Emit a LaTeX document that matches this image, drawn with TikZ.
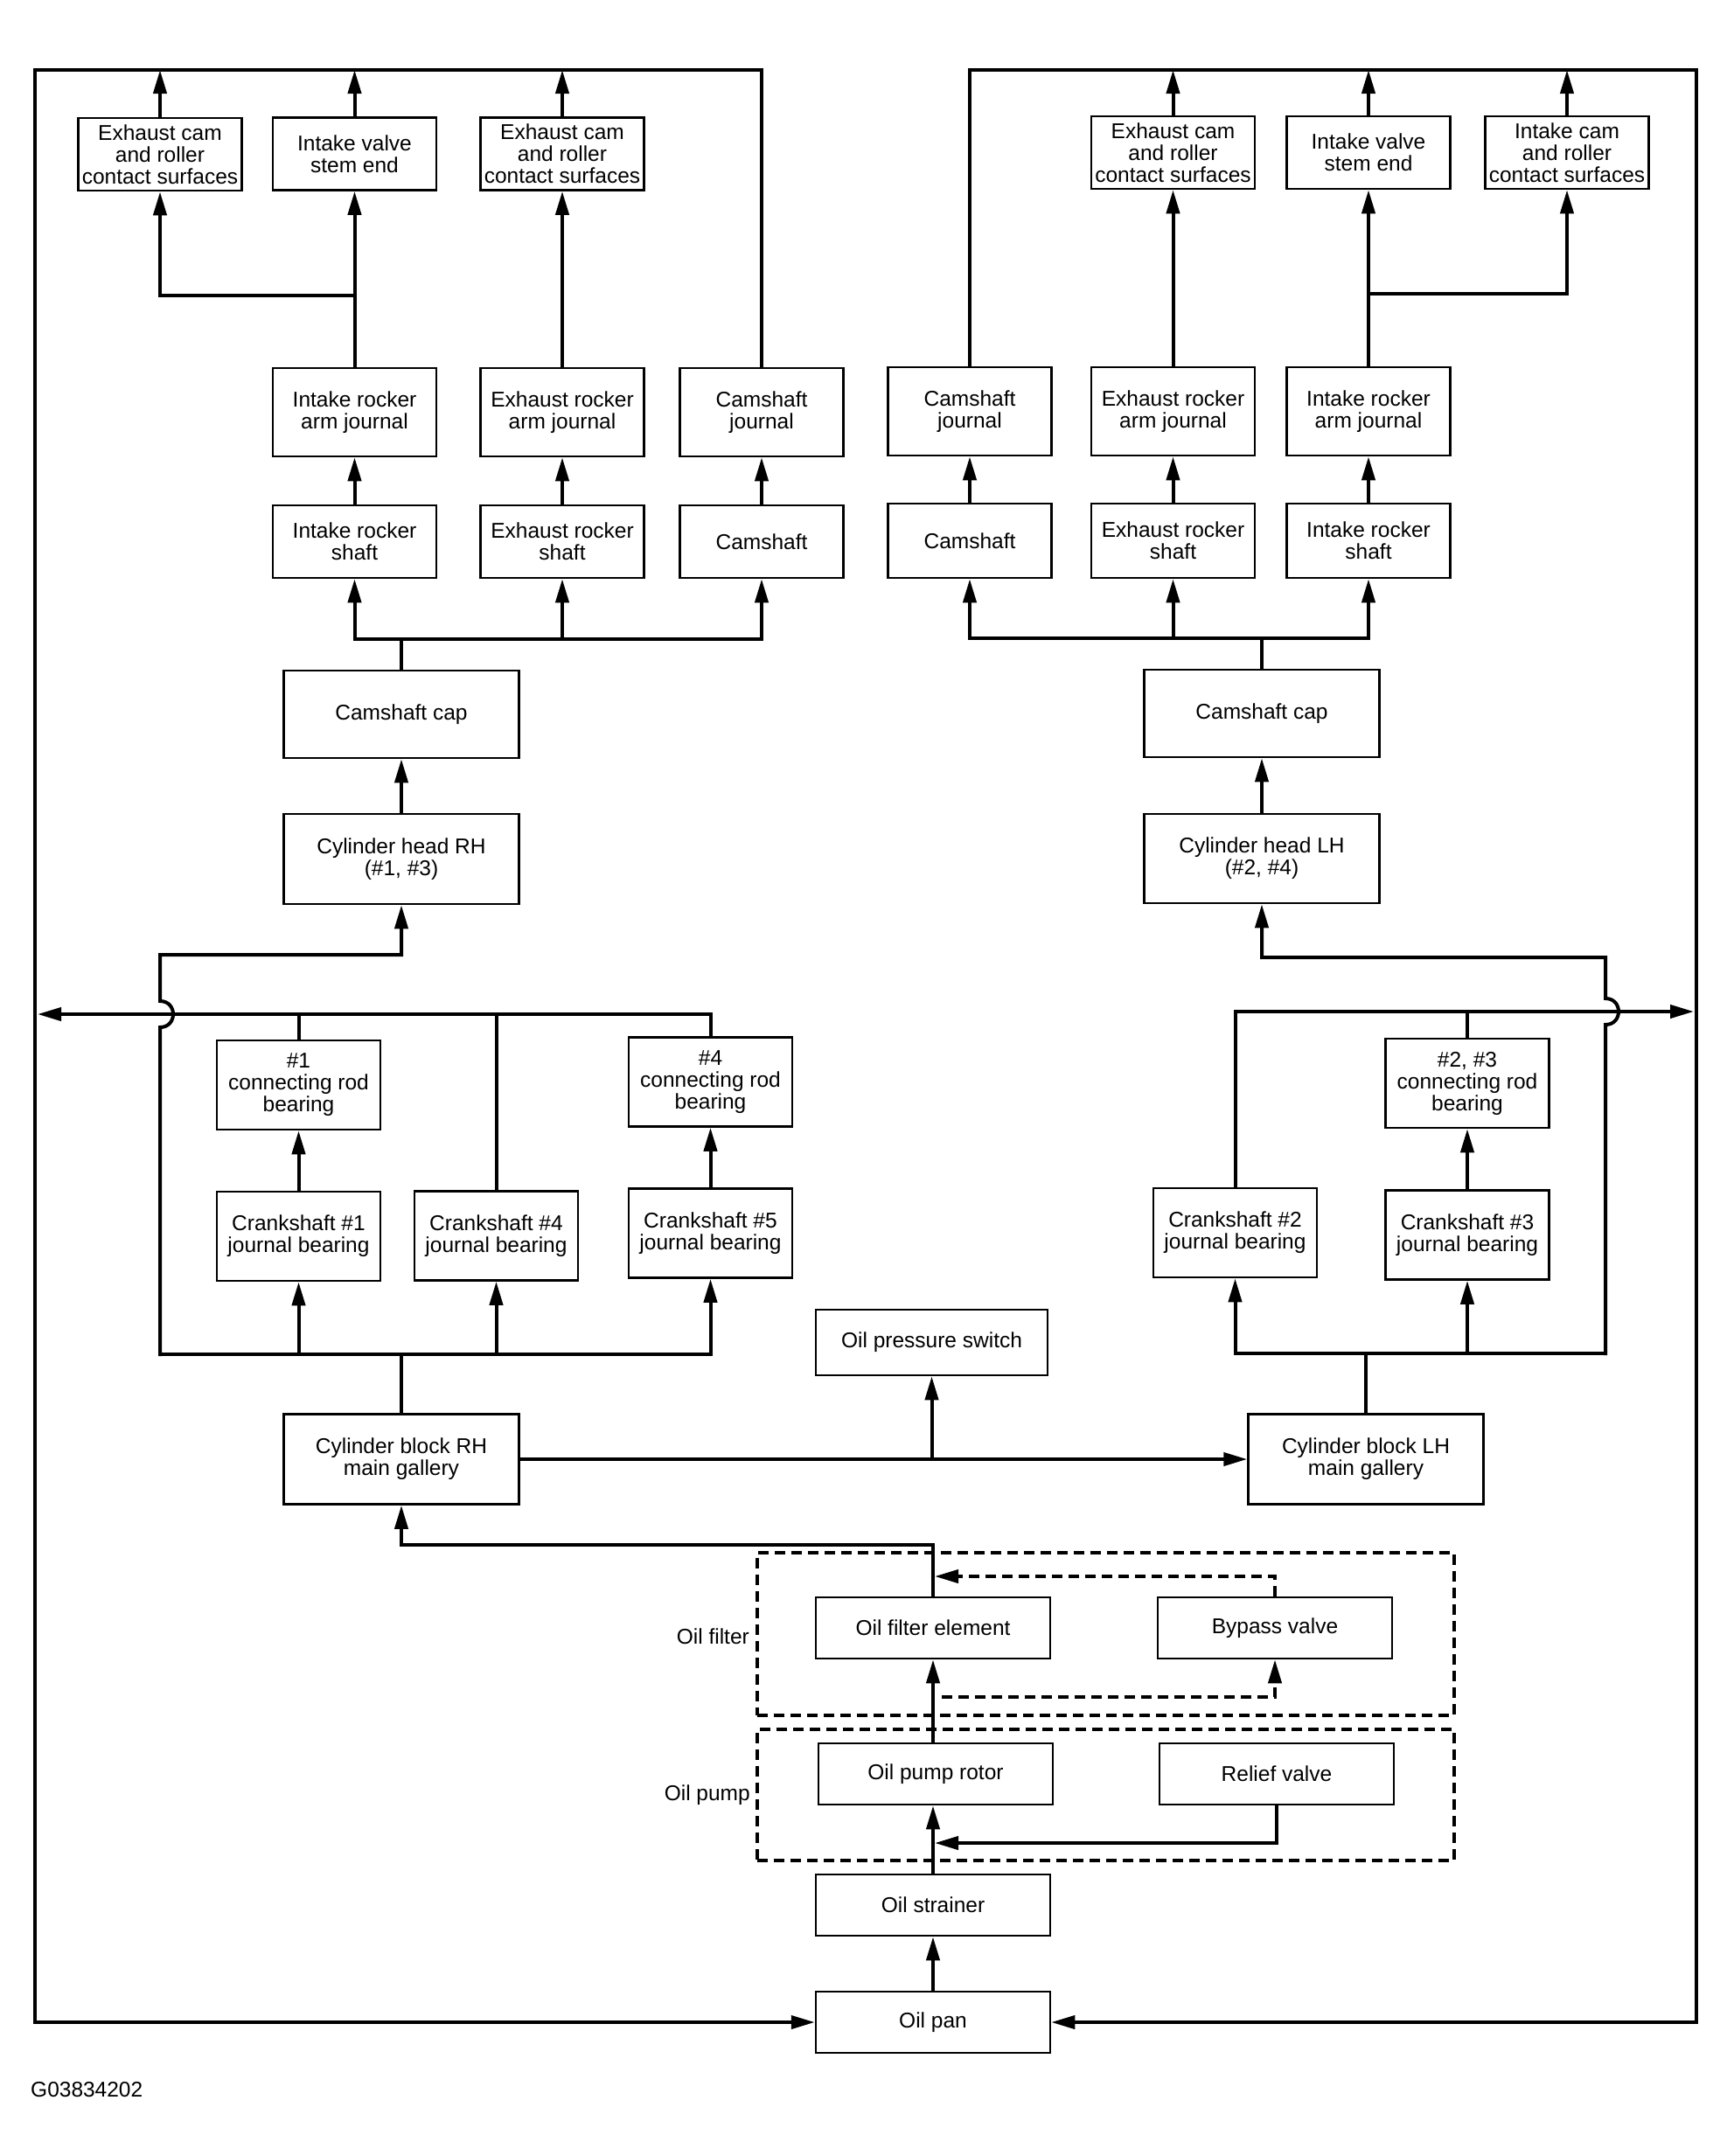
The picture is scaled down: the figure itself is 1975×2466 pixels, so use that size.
\documentclass[tikz,border=0pt]{standalone}
\usepackage{fontspec}
\setmainfont{Liberation Sans}
\usetikzlibrary{arrows.meta}
\begin{document}
\begin{tikzpicture}[x=1pt,y=-1pt,
  txt/.style={font=\fontsize{24.5}{25}\selectfont},
  box/.style={txt, draw, line width=2.5pt, inner sep=0pt, align=center},
  sbox/.style={box, minimum width=187pt, minimum height=83pt},
  tbox/.style={box, minimum width=187pt, minimum height=101pt},
  wbox/.style={box, minimum width=269pt, minimum height=102pt},
  bbox/.style={box, minimum width=268pt, minimum height=70pt},
  conn/.style={line width=4pt, line cap=rect},
  arr/.style={conn, -{Triangle[length=27pt,width=15pt]}},
  dashbox/.style={draw, line width=3.5pt, dash pattern=on 12pt off 7pt, minimum width=797pt, inner sep=0pt},
  dotarr/.style={line width=4pt, dash pattern=on 12pt off 7pt, -{Triangle[length=27pt,width=15pt]}},
]
\useasboundingbox (0,0) rectangle (1975,2466);

% ---------- RH upper ----------
\node[sbox] (E1) at (183,176.5) {Exhaust cam\\and roller\\contact surfaces};
\node[sbox] (IV1) at (405.5,176) {Intake valve\\stem end};
\node[sbox] (E2) at (643,176) {Exhaust cam\\and roller\\contact surfaces};
\node[tbox] (IRA1) at (405.5,471.5) {Intake rocker\\arm journal};
\node[tbox] (ERA1) at (643,471.5) {Exhaust rocker\\arm journal};
\node[tbox] (CJ1) at (871,471.5) {Camshaft\\journal};
\node[sbox] (IRS1) at (405.5,619.5) {Intake rocker\\shaft};
\node[sbox] (ERS1) at (643,619.5) {Exhaust rocker\\shaft};
\node[sbox] (CS1) at (871,619.5) {Camshaft};
\node[wbox, minimum height=100pt] (CC1) at (459,817) {Camshaft cap};
\node[wbox, minimum height=103pt] (CH1) at (459,982.5) {Cylinder head RH\\(\#1, \#3)};

% ---------- LH upper ----------
\node[sbox] (E3) at (1341.5,174.5) {Exhaust cam\\and roller\\contact surfaces};
\node[sbox] (IV2) at (1565,174.5) {Intake valve\\stem end};
\node[sbox] (IC) at (1792,174.5) {Intake cam\\and roller\\contact surfaces};
\node[tbox] (CJ2) at (1109,470.5) {Camshaft\\journal};
\node[tbox] (ERA2) at (1341.5,470.5) {Exhaust rocker\\arm journal};
\node[tbox] (IRA2) at (1565,470.5) {Intake rocker\\arm journal};
\node[sbox, minimum height=85pt] (CS2) at (1109,618.5) {Camshaft};
\node[sbox, minimum height=85pt] (ERS2) at (1341.5,618.5) {Exhaust rocker\\shaft};
\node[sbox, minimum height=85pt] (IRS2) at (1565,618.5) {Intake rocker\\shaft};
\node[wbox, minimum height=100pt] (CC2) at (1443,816) {Camshaft cap};
\node[wbox] (CH2) at (1443,982) {Cylinder head LH\\(\#2, \#4)};

% ---------- crank area ----------
\node[tbox, minimum height=102pt] (CR1) at (341.5,1241) {\#1\\connecting rod\\bearing};
\node[tbox, minimum height=102pt] (CR4) at (812.5,1237.5) {\#4\\connecting rod\\bearing};
\node[tbox, minimum height=102pt] (CK1) at (341.5,1414) {Crankshaft \#1\\journal bearing};
\node[tbox, minimum height=102pt] (CK4) at (567.5,1413.5) {Crankshaft \#4\\journal bearing};
\node[tbox, minimum height=102pt] (CK5) at (812.5,1410.5) {Crankshaft \#5\\journal bearing};
\node[tbox, minimum height=102pt] (CR23) at (1678,1239) {\#2, \#3\\connecting rod\\bearing};
\node[tbox, minimum height=102pt] (CK2) at (1412.5,1410) {Crankshaft \#2\\journal bearing};
\node[tbox, minimum height=102pt] (CK3) at (1678,1412.5) {Crankshaft \#3\\journal bearing};
\node[wbox, minimum height=103pt] (CB1) at (459,1669) {Cylinder block RH\\main gallery};
\node[wbox, minimum height=103pt] (CB2) at (1562,1669) {Cylinder block LH\\main gallery};
\node[box, minimum width=265pt, minimum height=75pt] (OPS) at (1065.5,1535.5) {Oil pressure switch};

% ---------- lubrication source ----------
\node[dashbox, minimum height=186pt] (FB) at (1264.5,1869) {};
\node[dashbox, minimum height=150pt] (PB) at (1264.5,2053) {};
\node[txt, anchor=east, inner sep=0pt] (LF) at (857,1872) {Oil filter};
\node[txt, anchor=east, inner sep=0pt] (LP) at (858,2053) {Oil pump};
\node[bbox] (OFE) at (1067,1862) {Oil filter element};
\node[bbox] (BV) at (1458,1862) {Bypass valve};
\node[bbox] (OPR) at (1070,2029) {Oil pump rotor};
\node[bbox] (RV) at (1460,2029) {Relief valve};
\node[bbox] (OST) at (1067,2179) {Oil strainer};
\node[bbox] (OP) at (1067,2313) {Oil pan};
\node[txt, anchor=west, inner sep=0pt] (ID) at (35,2390) {G03834202};

% ---------- coordinates ----------
\coordinate (topL) at (40,80);
\coordinate (topR) at (1940,80);
\coordinate (sp1) at (405.5,338);
\coordinate (sp2) at (1565,336);
\coordinate (br1) at (459,731);
\coordinate (br2) at (1443,730);
\coordinate (jL) at (183,1092);
\coordinate (jR) at (1836,1095);
\coordinate (hL) at (43,1160);
\coordinate (hR) at (1937,1157);
\coordinate (bL) at (183,1549);
\coordinate (bR) at (1836,1548);
\coordinate (hopLa) at (183,1175);
\coordinate (hopLb) at (183,1145);
\coordinate (hopRa) at (1836,1172);
\coordinate (hopRb) at (1836,1142);
\coordinate (fl) at (1067,1767);
\coordinate (rl) at (1069,2108);
\coordinate (bp1) at (1077,1941);
\coordinate (bp2) at (1069,1803);

% ---------- outer return loops ----------
\draw[arr] (CJ1.north) |- (topL) |- (OP.west);
\draw[arr] (CJ2.north) |- (topR) |- (OP.east);

% ---------- RH upper connectors ----------
\draw[arr] (E1.north) -- (E1.north |- topL);
\draw[arr] (IV1.north) -- (IV1.north |- topL);
\draw[arr] (E2.north) -- (E2.north |- topL);
\draw[arr] (IRA1.north) -- (IV1.south);
\draw[arr] (sp1) -| (E1.south);
\draw[arr] (ERA1.north) -- (E2.south);
\draw[arr] (IRS1.north) -- (IRA1.south);
\draw[arr] (ERS1.north) -- (ERA1.south);
\draw[arr] (CS1.north) -- (CJ1.south);
\draw[conn] (CC1.north) -- (br1);
\draw[arr] (br1) -| (IRS1.south);
\draw[arr] (br1) -| (CS1.south);
\draw[arr] (ERS1.south |- br1) -- (ERS1.south);
\draw[arr] (CH1.north) -- (CC1.south);

% ---------- LH upper connectors ----------
\draw[arr] (E3.north) -- (E3.north |- topR);
\draw[arr] (IV2.north) -- (IV2.north |- topR);
\draw[arr] (IC.north) -- (IC.north |- topR);
\draw[arr] (ERA2.north) -- (E3.south);
\draw[arr] (IRA2.north) -- (IV2.south);
\draw[arr] (sp2) -| (IC.south);
\draw[arr] (CS2.north) -- (CJ2.south);
\draw[arr] (ERS2.north) -- (ERA2.south);
\draw[arr] (IRS2.north) -- (IRA2.south);
\draw[conn] (CC2.north) -- (br2);
\draw[arr] (br2) -| (CS2.south);
\draw[arr] (br2) -| (IRS2.south);
\draw[arr] (ERS2.south |- br2) -- (ERS2.south);
\draw[arr] (CH2.north) -- (CC2.south);

% ---------- RH crank area ----------
\draw[arr] (bL) -- (hopLa) .. controls (203,1175) and (203,1145) .. (hopLb) -- (jL) -| (CH1.south);
\draw[arr] (CR4.north) |- (hL);
\draw[conn] (CR1.north) -- (CR1.north |- hL);
\draw[conn] (CK4.north) -- (CK4.north |- hL);
\draw[arr] (CK1.north) -- (CR1.south);
\draw[arr] (CK5.north) -- (CR4.south);
\draw[arr] (bL) -| (CK5.south);
\draw[arr] (CK1.south |- bL) -- (CK1.south);
\draw[arr] (CK4.south |- bL) -- (CK4.south);
\draw[conn] (CB1.north) -- (CB1.north |- bL);

% ---------- LH crank area ----------
\draw[arr] (bR) -- (hopRa) .. controls (1856,1172) and (1856,1142) .. (hopRb) -- (jR) -| (CH2.south);
\draw[arr] (CK2.north) |- (hR);
\draw[conn] (CR23.north) -- (CR23.north |- hR);
\draw[arr] (CK3.north) -- (CR23.south);
\draw[arr] (bR) -| (CK2.south);
\draw[arr] (CK3.south |- bR) -- (CK3.south);
\draw[conn] (CB2.north) -- (CB2.north |- bR);

% ---------- galleries ----------
\draw[arr] (CB1.east) -- (CB2.west);
\draw[arr] (OPS.south |- CB1.east) -- (OPS.south);
\draw[arr] (OFE.north) -- (fl) -| (CB1.south);

% ---------- pump / filter ----------
\draw[arr] (OP.north) -- (OST.south);
\draw[arr] (OST.north) -- (OST.north |- OPR.south);
\draw[arr] (OFE.south |- OPR.north) -- (OFE.south);
\draw[arr] (RV.south) |- (rl);
\draw[dotarr] (bp1) -| (BV.south);
\draw[dotarr] (BV.north) |- (bp2);
\end{tikzpicture}
\end{document}
